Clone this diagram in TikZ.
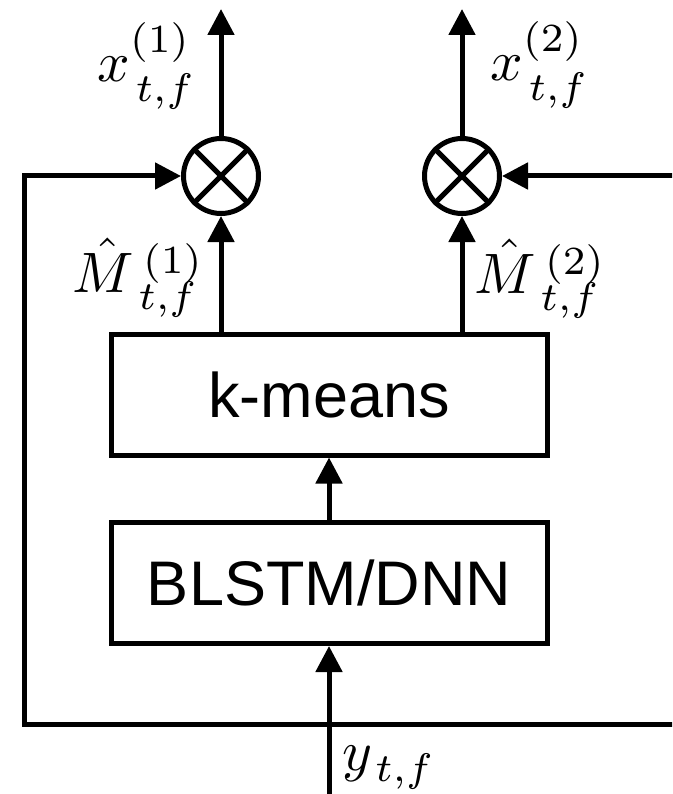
\documentclass[tikz,border=0pt]{standalone}
\usepackage{graphicx}
\usepackage{fontspec}
\setsansfont{Liberation Sans}
\usetikzlibrary{arrows.meta}
% base, sup gap, sup raise, sup, sub gap, sub raise, sub  (typeset at 10pt, then scaled)
\newcommand\mylab[7]{\scalebox{5.7}{$#1\rlap{\hspace{#2}\raisebox{#3}{$\scriptstyle #4$}}\hspace{#5}\raisebox{#6}{$\scriptstyle #7$}$}}
\begin{document}
\begin{tikzpicture}[x=1pt,y=-1pt,
  line width=5pt,
  arr/.style={-{Triangle[length=26pt,width=26pt]}},
  blk/.style={draw,rectangle,inner sep=0pt,minimum width=436pt,minimum height=121pt,
     font=\sffamily\fontsize{63}{70}\selectfont},
  mult/.style={draw,circle,inner sep=0pt,minimum size=75pt},
  lbl/.style={inner sep=0pt,anchor=base west,font=\normalsize}]
\useasboundingbox (0,0) rectangle (672,794);
\clip (0,0) rectangle (672,794);
\node[blk] (km) at (329,394.5) {k-means};
\node[blk] (bl) at (329,583) {BLSTM/DNN};
\node[mult] (c1) at (221,176) {};
\node[mult] (c2) at (462,176) {};
\draw (c1.north east) -- (c1.south west) (c1.north west) -- (c1.south east);
\draw (c2.north east) -- (c2.south west) (c2.north west) -- (c2.south east);
\coordinate (o1) at (221,9);
\coordinate (o2) at (462,9);
\coordinate (in) at (329,800);
\coordinate (j) at (329,724);
\coordinate (lc) at (24,724);
\coordinate (rc) at (685,724);
\draw[arr] (c1.north) -- (o1);
\draw[arr] (c2.north) -- (o2);
\draw[arr] (km.north -| c1) -- (c1.south);
\draw[arr] (km.north -| c2) -- (c2.south);
\draw[arr] (bl.north) -- (km.south);
\draw[arr] (in) -- (bl.south);
\draw[arr] (j) -- (lc) |- (c1.west);
\draw[arr] (j) -- (rc) |- (c2.east);
\node[lbl] (x1) at (95,82) {\mylab{x}{0pt}{5.1pt}{(1)}{1pt}{-3.5pt}{t,f}};
\node[lbl] (x2) at (488,81) {\mylab{x}{0pt}{5.1pt}{(2)}{1pt}{-3.5pt}{t,f}};
\node[lbl] (m1) at (70,292) {\mylab{\hat{M}}{1.6pt}{3.2pt}{(1)}{0.8pt}{-3pt}{t,f}};
\node[lbl] (m2) at (472,293) {\mylab{\hat{M}}{1.6pt}{3.2pt}{(2)}{0.8pt}{-3pt}{t,f}};
\node[lbl] (y) at (340,770) {\mylab{y}{0pt}{0pt}{}{0.5pt}{-2.1pt}{t,f}};
\end{tikzpicture}
\end{document}
